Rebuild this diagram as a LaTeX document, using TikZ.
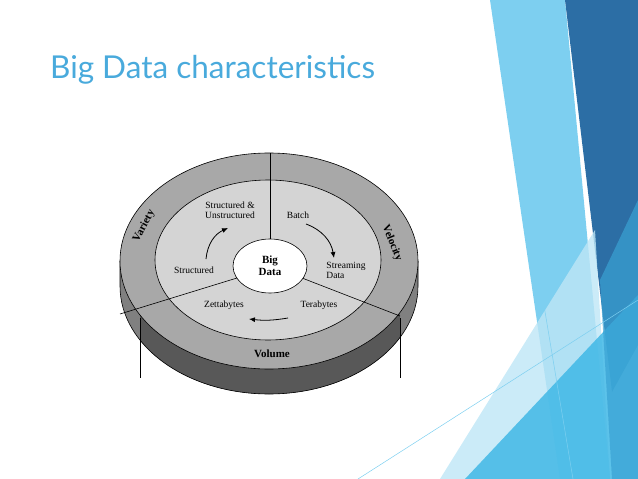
\documentclass[tikz,border=0pt]{standalone}
\usepackage{fontspec}
\setmainfont{Liberation Serif}
\newfontfamily\titlefont{Lato}
\usetikzlibrary{arrows.meta}
\definecolor{titleblue}{RGB}{73,170,220}
\definecolor{ringgray}{RGB}{168,168,168}
\definecolor{innergray}{RGB}{212,212,212}
\definecolor{sidedark}{RGB}{88,88,88}
\definecolor{sidelight}{RGB}{128,128,128}
\definecolor{deepblue}{RGB}{44,110,165}
\definecolor{skyblue}{RGB}{125,207,240}
\definecolor{midblue}{RGB}{64,184,230}
\definecolor{paleblue}{RGB}{190,230,246}
\tikzset{
  lbl/.style={font=\fontsize{9.5}{10}\selectfont, align=center, inner sep=1pt},
  ringlbl/.style={font=\fontsize{11}{12}\selectfont\bfseries, inner sep=1pt},
  flow/.style={-{Latex[length=6pt,width=5pt]}, line width=0.8pt},
  divider/.style={line width=0.6pt}
}
\begin{document}
\begin{tikzpicture}[x=1pt, y=-1pt]
    \useasboundingbox (0,0) rectangle (638,479);
    %background stripes on the right
    \fill[skyblue] (490,0) -- (565,0) -- (610,479) -- (560,479) -- cycle;
    \fill[deepblue] (565,0) -- (638,0) -- (638,345) -- (612,392) -- cycle;
    \fill[paleblue, opacity=0.8] (440,479) -- (595,230) -- (610,479) -- cycle;
    \fill[midblue, opacity=0.85] (465,479) -- (638,295) -- (638,479) -- cycle;
    \fill[midblue!70!deepblue, opacity=0.7] (600,280) -- (638,200) -- (638,479) -- (612,479) -- cycle;
    \draw[skyblue, line width=0.5pt] (497,25) -- (573,479);
    \draw[skyblue, line width=0.5pt] (358,479) -- (638,300);

    %title
    \node[anchor=base west, text=titleblue, inner sep=0pt,
          font=\titlefont\fontsize{31.5}{33}\selectfont] (title) at (50,78) {Big Data characteristics};

    %disk side
    \begin{scope}
      \clip (120,261) -- (120,286) arc[start angle=180, end angle=0, x radius=149, y radius=108]
            -- (418,261) -- cycle;
      \fill[sidelight] (110,250) rectangle (430,400);
      \fill[sidedark] (140,250) rectangle (400,400);
    \end{scope}
    \draw[divider] (120,261) -- (120,286) arc[start angle=180, end angle=0, x radius=149, y radius=108]
            -- (418,261);
    \draw[divider] (140,318) -- (140,378);
    \draw[divider] (400,318) -- (400,378);

    %rings
    \fill[ringgray, draw=black, divider] (269,261) ellipse[x radius=149, y radius=108];
    \fill[innergray, draw=black, divider] (268,260) ellipse[x radius=113, y radius=80];
    \draw[divider] (270,153) -- (270,240);
    \draw[divider] (120,314) -- (237,278);
    \draw[divider] (302,278) -- (400,316);
    \fill[white, draw=black, divider] (270,266) ellipse[x radius=37, y radius=27];
    \node[font=\fontsize{11}{12}\selectfont\bfseries, align=center] (bigdata) at (270,266) {Big\\Data};

    %ring labels
    \node[ringlbl, rotate=62] (variety) at (144,226) {Variety};
    \node[ringlbl, rotate=-68] (velocity) at (392,243) {Velocity};
    \node[ringlbl] (volume) at (272,354) {Volume};

    %inner labels
    \node[lbl] (both) at (230,210) {Structured \&\\Unstructured};
    \node[lbl] (batch) at (298,215) {Batch};
    \node[lbl] (structured) at (194,270) {Structured};
    \node[lbl, align=left] (stream) at (346,270) {Streaming\\Data};
    \node[lbl] (zetta) at (224,305) {Zettabytes};
    \node[lbl] (tera) at (319,305) {Terabytes};

    %flow arrows
    \coordinate (a1) at (206,259);
    \coordinate (a2) at (228,228);
    \coordinate (b1) at (306,224);
    \coordinate (b2) at (334,258);
    \coordinate (c1) at (288,318);
    \coordinate (c2) at (249,319);
    \draw[flow] (a1) to[bend left=30] (a2);
    \draw[flow] (b1) to[bend left=30] (b2);
    \draw[flow] (c1) to[bend left=8] (c2);
\end{tikzpicture}
\end{document}
